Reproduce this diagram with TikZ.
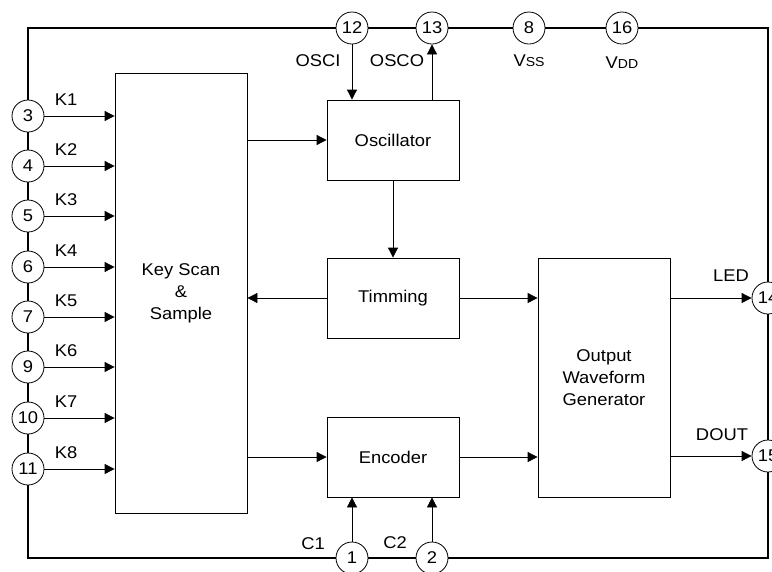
\documentclass[tikz,border=0pt]{standalone}
\usepackage{fontspec}
\setmainfont[FakeStretch=1.08]{Liberation Sans}
\usepackage{tikz}
\usetikzlibrary{arrows.meta,positioning,calc}

\begin{document}
\begin{tikzpicture}[
    x=1pt,y=-1pt,
    >={Triangle[length=10pt,width=10pt]},
    font=\fontsize{17}{22}\selectfont,
    chip/.style={draw=black, line width=2pt},
    block/.style={draw=black, line width=0.8pt, minimum width=132pt, minimum height=80pt, inner sep=2pt, align=center},
    pad/.style={circle, draw=black, line width=0.8pt, fill=white, minimum size=32pt, inner sep=0pt},
    sig/.style={->, line width=0.8pt},
    lbl/.style={inner sep=0pt}
]
\useasboundingbox (0,0) rectangle (772,571);

% Chip outline
\draw[chip] (28,28) rectangle (768,558);

% Blocks
\node[block, minimum height=440pt] (keyscan) at (181,293) {Key Scan\\\&\\Sample};
\node[block] (osc) at (393,140) {Oscillator};
\node[block] (tim) at (393,298) {Timming};
\node[block] (enc) at (393,457) {Encoder};
\node[block, minimum height=239pt] (owg) at (604,377.5) {Output\\Waveform\\Generator};

% Key input pads
\node[pad] (p3)  at (28,116) {3};
\node[pad] (p4)  at (28,166) {4};
\node[pad] (p5)  at (28,216) {5};
\node[pad] (p6)  at (28,267) {6};
\node[pad] (p7)  at (28,317) {7};
\node[pad] (p9)  at (28,367) {9};
\node[pad] (p10) at (28,418) {10};
\node[pad] (p11) at (28,469) {11};

\foreach \p/\k in {p3/K1,p4/K2,p5/K3,p6/K4,p7/K5,p9/K6,p10/K7,p11/K8}{
    \draw[sig] (\p.east) -- (\p -| keyscan.west);
    \node[lbl] at ($(\p)+(38,-16)$) {\k};
}

% Top pads
\node[pad] (p12) at (352,28) {12};
\node[pad] (p13) at (432,28) {13};
\node[pad] (p8)  at (529,28) {8};
\node[pad] (p16) at (622,28) {16};
\node[lbl] at (318,61) {OSCI};
\node[lbl] at (397,61) {OSCO};
\node[lbl] at (529,61) {V{\fontsize{13}{15}\selectfont SS}};
\node[lbl] at (622,63) {V{\fontsize{13}{15}\selectfont DD}};
\draw[sig] (p12.south) -- (p12 |- osc.north);
\draw[sig] (osc.north -| p13) -- (p13.south);

% Bottom pads
\node[pad] (p1) at (352,558) {1};
\node[pad] (p2) at (432,558) {2};
\node[lbl] at (313,544) {C1};
\node[lbl] at (395,543) {C2};
\draw[sig] (p1.north) -- (p1 |- enc.south);
\draw[sig] (p2.north) -- (p2 |- enc.south);

% Output pads
\node[pad] (p14) at (768,298) {14};
\node[pad] (p15) at (768,456) {15};
\node[lbl] at (731,276) {LED};
\node[lbl] at (722,435) {DOUT};
\draw[sig] (owg.east |- p14) -- (p14.west);
\draw[sig] (owg.east |- p15) -- (p15.west);

% Internal flow
\draw[sig] (keyscan.east |- osc.west) -- (osc.west);
\draw[sig] (osc.south) -- (tim.north);
\draw[sig] (tim.west) -- (tim.west -| keyscan.east);
\draw[sig] (tim.east) -- (tim.east -| owg.west);
\draw[sig] (keyscan.east |- enc.west) -- (enc.west);
\draw[sig] (enc.east) -- (enc.east -| owg.west);

\end{tikzpicture}
\end{document}
